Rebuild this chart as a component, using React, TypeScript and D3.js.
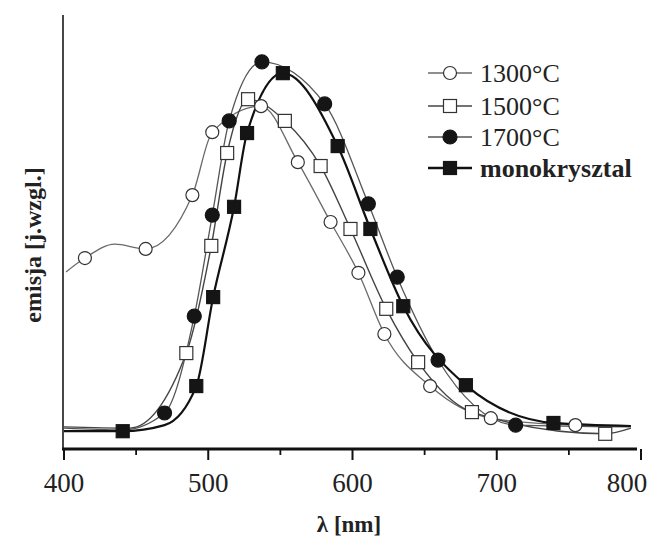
import { useEffect, useRef } from 'react';
import * as d3 from 'd3';

// wavelength [nm] and emission [a.u.]
const s1300Nm = [414.5, 456.6, 489.0, 502.8, 536.6, 562.1, 584.8, 604.1, 622.1, 653.8, 695.9, 754.5];
const s1300Val = [44.0, 46.1, 58.5, 73.0, 79.0, 66.1, 52.3, 40.6, 26.5, 14.5, 7.1, 5.5];
const s1500Nm = [484.8, 502.1, 513.1, 527.6, 553.1, 577.9, 598.6, 623.4, 645.5, 682.8, 775.2];
const s1500Val = [22.1, 46.8, 68.2, 80.6, 75.6, 65.2, 50.7, 32.3, 20.0, 8.5, 3.5];
const s1700Nm = [469.7, 490.3, 502.8, 514.5, 537.2, 580.7, 611.0, 631.0, 659.3, 713.1];
const s1700Val = [8.3, 30.6, 53.9, 75.6, 89.2, 79.5, 56.5, 39.6, 20.5, 5.5];
const monoNm = [440.7, 491.7, 503.4, 517.9, 526.9, 551.7, 589.7, 612.4, 635.2, 678.6, 739.3];
const monoVal = [4.1, 14.5, 35.0, 55.8, 72.8, 86.6, 69.8, 50.7, 32.9, 14.7, 6.0];

// extra points of the traced curves (no markers there)
const t1300Nm = [401.4, 435.2, 793];
const t1300Val = [40.8, 47.2, 5.3];
const t1500Nm = [400, 445.5, 793];
const t1500Val = [5.1, 4.8, 4.8];
const t1700Nm = [400, 440.7, 793];
const t1700Val = [4.8, 4.4, 5.1];
const tMonoNm = [400, 469.7, 793];
const tMonoVal = [4.1, 5.5, 5.3];

const labels = ['1300°C', '1500°C', '1700°C', 'monokrysztal'];
const xTicks = [400, 500, 600, 700, 800];
const xMinor = [450, 550, 650, 750];

const FONT = '"Liberation Serif", "Times New Roman", serif';

export default function App() {
  const svgRef = useRef<SVGSVGElement>(null);

  useEffect(() => {
    if (!svgRef.current) return;
    const svg = d3.select(svgRef.current);
    svg.selectAll('*').remove();

    const x = d3.scaleLinear().domain([400, 800]).range([64, 641]);
    const y = d3.scaleLinear().domain([0, 100]).range([449, 15]);

    const zip = (a: number[], b: number[]) => a.map((v, i) => [v, b[i]] as [number, number]);

    const series = [
      { marks: zip(s1300Nm, s1300Val), trace: zip(t1300Nm, t1300Val), shape: 'circle', filled: false, line: '#6a6a6a', lw: 1.3 },
      { marks: zip(s1500Nm, s1500Val), trace: zip(t1500Nm, t1500Val), shape: 'square', filled: false, line: '#444', lw: 1.4 },
      { marks: zip(s1700Nm, s1700Val), trace: zip(t1700Nm, t1700Val), shape: 'circle', filled: true, line: '#555', lw: 1.3 },
      { marks: zip(monoNm, monoVal), trace: zip(tMonoNm, tMonoVal), shape: 'square', filled: true, line: '#111', lw: 2.2 },
    ];

    const line = d3.line<[number, number]>()
      .x(d => x(d[0]))
      .y(d => y(d[1]))
      .curve(d3.curveMonotoneX);

    const drawMarker = (g: any, shape: string, filled: boolean, cx: number, cy: number) => {
      const fill = filled ? '#151515' : '#fff';
      const stroke = filled ? '#151515' : '#333';
      if (shape === 'circle') {
        g.append('circle').attr('cx', cx).attr('cy', cy).attr('r', filled ? 7 : 6.5)
          .attr('fill', fill).attr('stroke', stroke).attr('stroke-width', 1.2);
      } else {
        g.append('rect').attr('x', cx - 6.5).attr('y', cy - 6.5).attr('width', 13).attr('height', 13)
          .attr('fill', fill).attr('stroke', stroke).attr('stroke-width', 1.2);
      }
    };

    // curves
    series.forEach(s => {
      const pts = [...s.marks, ...s.trace].sort((a, b) => a[0] - b[0]);
      svg.append('path')
        .attr('d', line(pts) as string)
        .attr('fill', 'none')
        .attr('stroke', s.line)
        .attr('stroke-width', s.lw);
    });

    // markers
    series.forEach(s => {
      const g = svg.append('g');
      s.marks.forEach(d => drawMarker(g, s.shape, s.filled, x(d[0]), y(d[1])));
    });

    // axes
    svg.append('line').attr('x1', 63).attr('x2', 63).attr('y1', 15).attr('y2', 449)
      .attr('stroke', '#333').attr('stroke-width', 1.8);
    svg.append('line').attr('x1', 62).attr('x2', 637).attr('y1', 449).attr('y2', 449)
      .attr('stroke', '#111').attr('stroke-width', 3);

    xTicks.forEach((t, i) => {
      svg.append('line').attr('x1', x(t)).attr('x2', x(t)).attr('y1', 449).attr('y2', 460)
        .attr('stroke', '#111').attr('stroke-width', 2);
      svg.append('text')
        .attr('x', x(t) + (i === xTicks.length - 1 ? -14 : 0))
        .attr('y', 483)
        .attr('text-anchor', 'middle')
        .attr('dominant-baseline', 'central')
        .attr('font-family', FONT)
        .attr('font-size', '27px')
        .attr('fill', '#222')
        .text(t);
    });
    xMinor.forEach(t => {
      svg.append('line').attr('x1', x(t)).attr('x2', x(t)).attr('y1', 449).attr('y2', 455)
        .attr('stroke', '#111').attr('stroke-width', 1.8);
    });

    svg.append('text')
      .attr('x', 349).attr('y', 524)
      .attr('text-anchor', 'middle').attr('dominant-baseline', 'central')
      .attr('font-family', FONT).attr('font-size', '23px').attr('font-weight', 'bold')
      .attr('fill', '#222')
      .text('λ [nm]');

    svg.append('text')
      .attr('transform', 'translate(33,245) rotate(-90)')
      .attr('text-anchor', 'middle').attr('dominant-baseline', 'central')
      .attr('font-family', FONT).attr('font-size', '24px').attr('font-weight', 'bold')
      .attr('fill', '#222')
      .text('emisja [j.wzgl.]');

    // legend
    const rows = [73, 106, 137, 168];
    series.forEach((s, i) => {
      const g = svg.append('g');
      g.append('line').attr('x1', 428).attr('x2', 472).attr('y1', rows[i]).attr('y2', rows[i])
        .attr('stroke', s.line).attr('stroke-width', s.lw + 0.3);
      drawMarker(g, s.shape, s.filled, 450, rows[i]);
      g.append('text')
        .attr('x', 480).attr('y', rows[i])
        .attr('dominant-baseline', 'central')
        .attr('font-family', FONT).attr('font-size', '26px')
        .attr('font-weight', i === 3 ? 'bold' : 'normal')
        .attr('fill', '#222')
        .text(labels[i]);
    });
  }, []);

  return (
    <div style={{ position: 'absolute', left: 0, top: 0, background: '#fff' }}>
      <svg ref={svgRef} width={654} height={543} />
    </div>
  );
}
